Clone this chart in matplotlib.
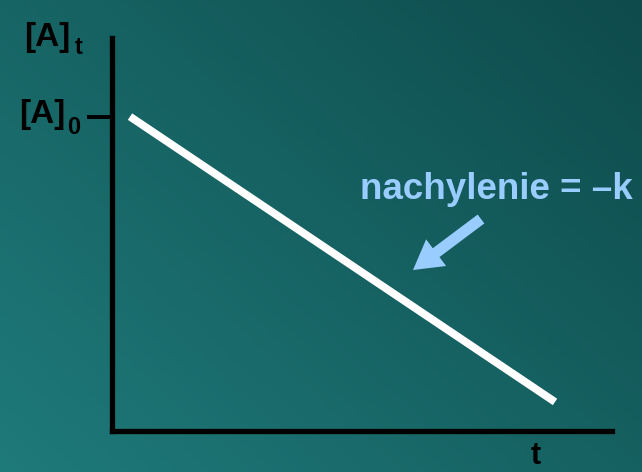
import numpy as np
import matplotlib
matplotlib.use("Agg")
import matplotlib.pyplot as plt
from matplotlib.colors import LinearSegmentedColormap

# data (zero-order kinetics: linear decrease)
t_vals = [0.36, 8.86]
A_vals = [0.80, 0.074]
A0 = 0.80
y_label_top = "[A]"
y_sub_top = "t"
y_label_tick = "[A]"
y_sub_tick = "0"
x_label = "t"
annot_text = "nachylenie = \u2013k"

W, H = 642, 472
fig = plt.figure(figsize=(W / 100, H / 100), dpi=100)

# background gradient
bg = fig.add_axes([0, 0, 1, 1])
cmap = LinearSegmentedColormap.from_list("bg", ["#1f7a7a", "#0e4b4c"])
xx, yy = np.meshgrid(np.linspace(0, 1, 200), np.linspace(0, 1, 200))
grad = (xx * 0.55 + yy * 0.45)
bg.imshow(grad, cmap=cmap, origin="lower", extent=[0, 1, 0, 1], aspect="auto")
bg.set_axis_off()

def px(x, y):
    return x / W, 1 - y / H

left, right, top, bottom = 112, 612, 38, 431
ax = fig.add_axes([left / W, 1 - bottom / H, (right - left) / W, (bottom - top) / H])
ax.patch.set_alpha(0)
ax.set_xlim(0, 10)
ax.set_ylim(0, 1)
for s in ["top", "right"]:
    ax.spines[s].set_visible(False)
for s in ["left", "bottom"]:
    ax.spines[s].set_color("black")
    ax.spines[s].set_linewidth(3.8)
    ax.spines[s].set_capstyle("projecting")
ax.set_xticks([])
ax.set_yticks([A0])
ax.set_yticklabels([""])
ax.tick_params(axis="y", length=18, width=2.8, color="black", direction="out")

ax.plot(t_vals, A_vals, color="white", lw=5.6, solid_capstyle="butt")

bold = dict(family="Liberation Sans", weight="bold", color="black")
fig.text(*px(19, 123), y_label_tick, fontsize=24, ha="left", va="baseline", **bold)
fig.text(*px(67, 134), y_sub_tick, fontsize=17, ha="left", va="baseline", **bold)
fig.text(*px(24, 46), y_label_top, fontsize=24, ha="left", va="baseline", **bold)
fig.text(*px(75, 54), y_sub_top, fontsize=17, ha="left", va="baseline", **bold)
fig.text(*px(536, 464), x_label, fontsize=22, ha="center", va="baseline", **bold)

fig.text(*px(360, 199), annot_text, fontsize=26.5, ha="left", va="baseline",
         family="Liberation Sans", weight="bold", color="#99ccff")

bg.annotate("", xy=px(413, 270), xytext=px(481, 219),
            xycoords="figure fraction", textcoords="figure fraction",
            arrowprops=dict(arrowstyle="simple,head_length=1.3,head_width=1.5,tail_width=0.5",
                            color="#99ccff", lw=0, mutation_scale=16, shrinkA=0, shrinkB=0))

fig.savefig("out.png", dpi=100)
